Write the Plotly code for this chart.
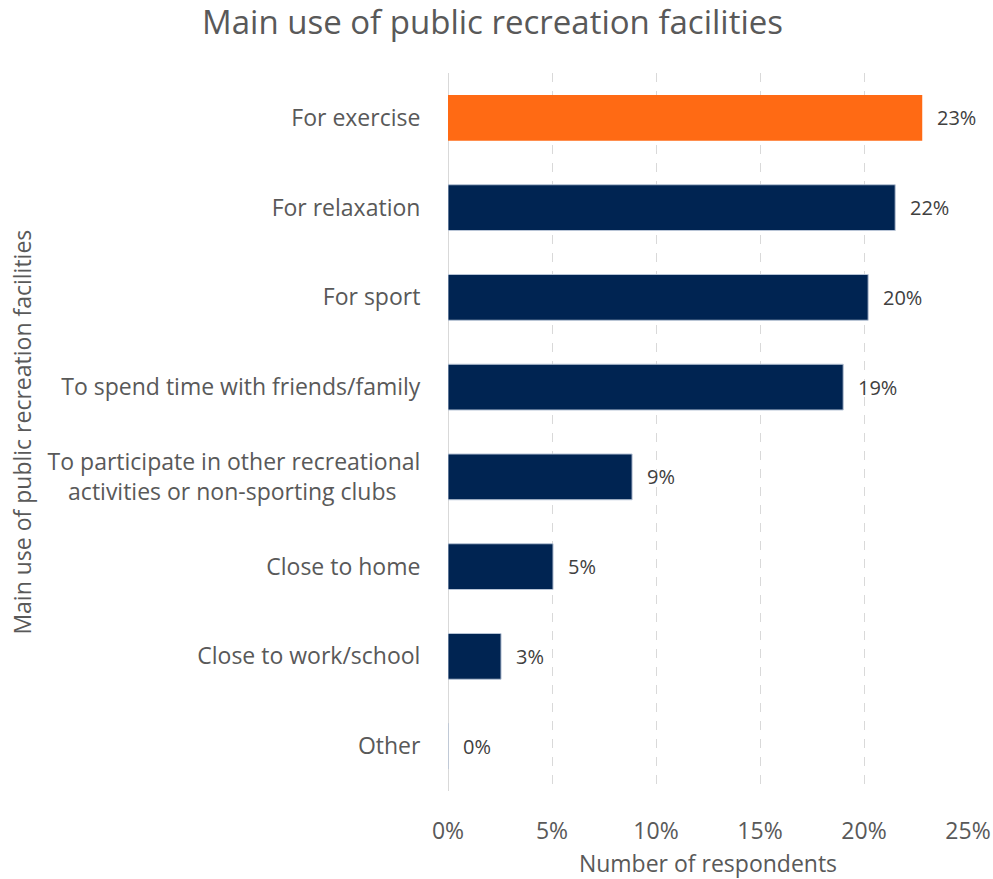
import plotly.graph_objects as go

# Survey responses: main use of public recreation facilities (share of respondents)
categories = [
    "For exercise",
    "For relaxation",
    "For sport",
    "To spend time with friends/family",
    "To participate in other recreational<br>activities or non-sporting clubs\u00a0\u00a0\u00a0\u00a0",
    "Close to home",
    "Close to work/school",
    "Other",
]
shares = [0.228, 0.215, 0.202, 0.190, 0.0885, 0.0505, 0.0255, 0.0]
highlight = "For exercise"

NAVY = "#002452"
ORANGE = "#FF6A14"
TEXT = "#595959"
FONT = "'Open Sans', sans-serif"

colors = [ORANGE if c == highlight else NAVY for c in categories]
outline = ["rgba(0,0,0,0)" if c == highlight else "#b8c4d6" for c in categories]

fig = go.Figure(
    go.Bar(
        x=shares,
        y=categories,
        orientation="h",
        width=0.51,
        marker=dict(color=colors, line=dict(color=outline, width=1)),
        hoverinfo="skip",
    )
)

# value labels just right of each bar end
for cat, v in zip(categories, shares):
    fig.add_annotation(
        x=v, y=cat, xref="x", yref="y",
        text=f"{v:.0%}", showarrow=False,
        xanchor="left", xshift=13,
        font=dict(family=FONT, size=20, color="#404040"),
    )

# vertical axis title
fig.add_annotation(
    x=-0.82, y=0.5, xref="paper", yref="paper",
    xanchor="center", yanchor="middle",
    text="Main use of public recreation facilities",
    textangle=-90, showarrow=False,
    font=dict(family=FONT, size=23, color=TEXT),
)

fig.update_layout(
    width=993, height=879,
    margin=dict(l=448, r=25, t=73, b=88, autoexpand=False),
    paper_bgcolor="white", plot_bgcolor="white",
    showlegend=False,
    title=dict(
        text="Main use of public recreation facilities",
        x=0.496, xanchor="center", y=0.975, yanchor="middle",
        font=dict(family=FONT, size=33, color=TEXT),
    ),
    font=dict(family=FONT, color=TEXT),
)

fig.update_xaxes(
    range=[0, 0.25],
    tickvals=[0, 0.05, 0.10, 0.15, 0.20, 0.25],
    tickformat=".0%",
    tickfont=dict(family=FONT, size=23, color=TEXT),
    ticks="outside", ticklen=19, tickcolor="rgba(0,0,0,0)",
    showgrid=True, gridcolor="#d9d9d9", gridwidth=1, griddash="dash",
    zeroline=True, zerolinecolor="#d9d9d9", zerolinewidth=1,
    showline=False, automargin=False,
    title=dict(text="Number of respondents", standoff=14,
               font=dict(family=FONT, size=23, color=TEXT)),
    fixedrange=True,
)

fig.update_yaxes(
    categoryorder="array", categoryarray=categories,
    autorange="reversed",
    tickfont=dict(family=FONT, size=23, color=TEXT),
    ticks="outside", ticklen=22, tickcolor="rgba(0,0,0,0)",
    showgrid=False, showline=False, zeroline=False,
    automargin=False,
    fixedrange=True,
)

fig.write_html("out.html")
